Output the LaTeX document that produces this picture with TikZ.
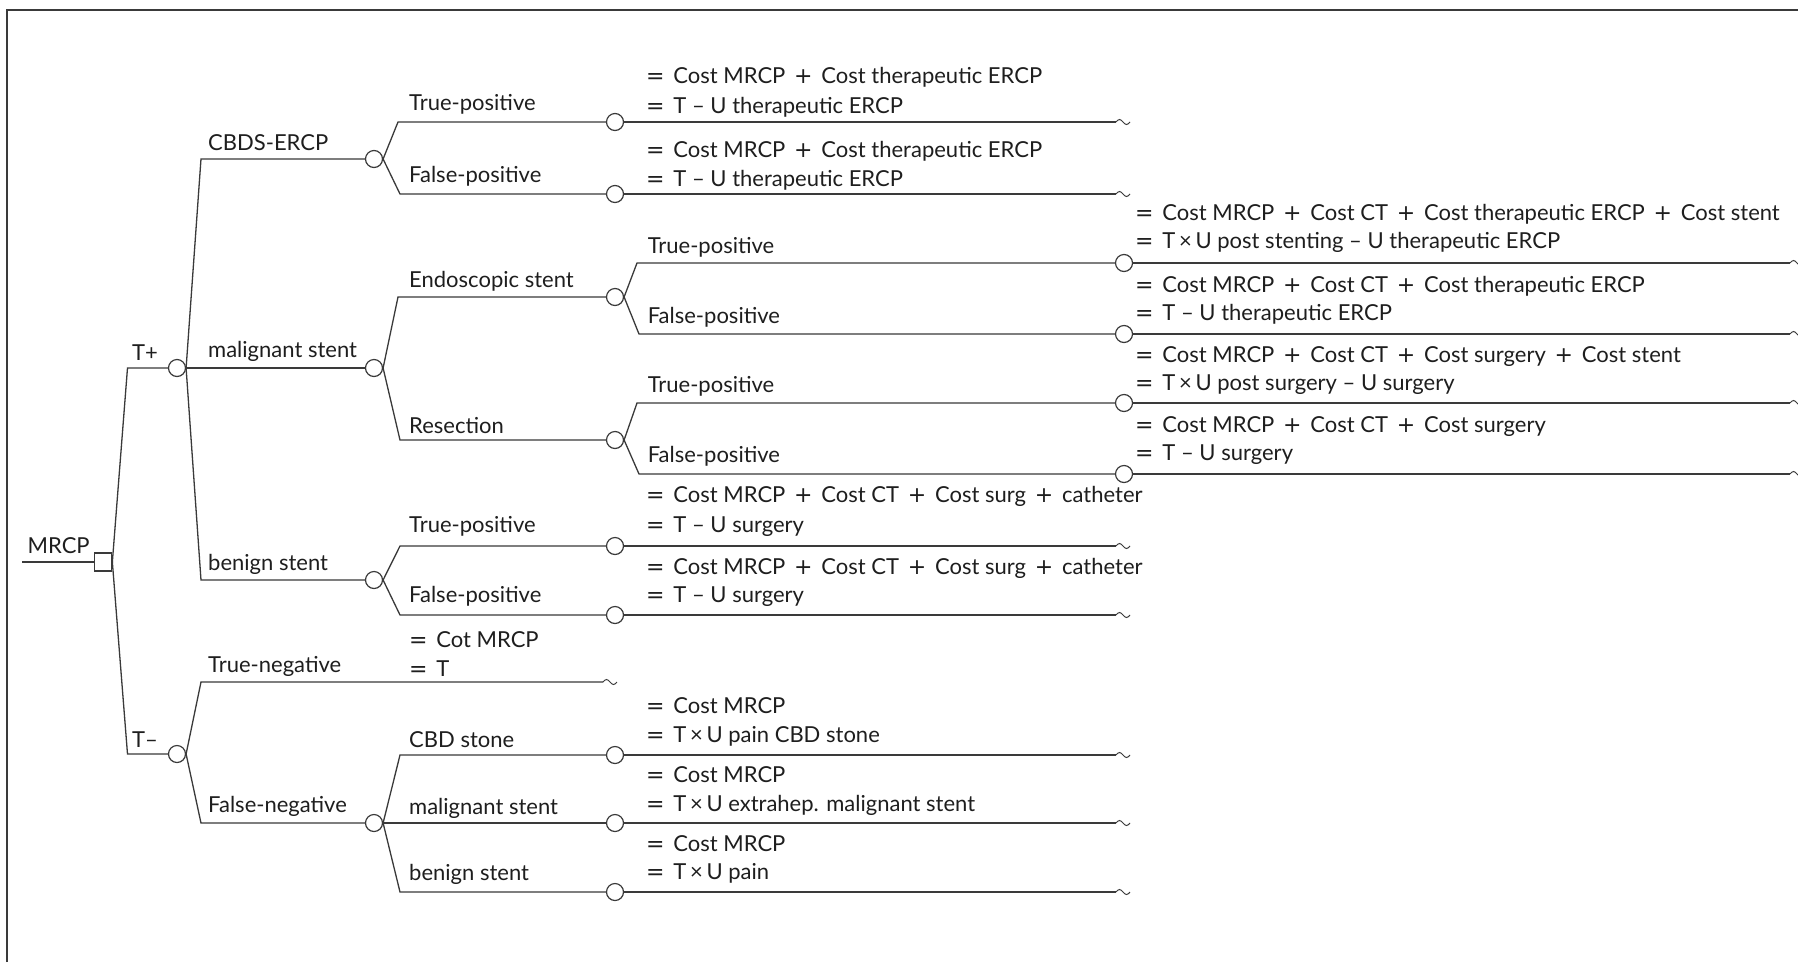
\documentclass[tikz,border=0pt]{standalone}
\usepackage{fontspec}
\setmainfont{Lato}
\newfontfamily\symf{DejaVu Sans}
\newcommand{\myeq}{{\symf =}\hspace{0.4em}}
\newcommand{\myplus}{\hspace{0.4em}{\symf +}\hspace{0.4em}}
\definecolor{lc}{HTML}{3A3A3A}
\definecolor{tc}{HTML}{1E1E1E}
\tikzset{
  br/.style={line width=1.3pt, draw=lc},
  framel/.style={line width=1.8pt, draw=lc},
  chance/.style={circle, draw=lc, line width=1.2pt, fill=white, minimum size=17pt, inner sep=0pt},
  dec/.style={rectangle, draw=lc, line width=1.2pt, fill=white, minimum width=17.5pt, minimum height=18pt, inner sep=0pt},
  lbl/.style={anchor=base west, inner sep=0pt, text=tc, font=\fontsize{22}{26}\selectfont},
  tld/.style={line width=1pt, draw=lc}
}
\newcommand{\tl}{sin ++(3.5,-2.5) cos ++(3.5,2.5) sin ++(3.5,2.5) cos ++(3.5,-2.5)}
\begin{document}
\begin{tikzpicture}[x=1pt,y=-1pt]
\useasboundingbox (0,0) rectangle (1798,962);
\fill[white] (0,0) rectangle (1798,962);
\draw[framel] (7,962) -- (7,10) -- (1798,10);

% coordinates
\coordinate (r0) at (22,562);
\coordinate (kP) at (127.5,368);
\coordinate (kN) at (127.5,754);
\coordinate (k1) at (201,159);
\coordinate (k3) at (201,580);
\coordinate (kTN) at (201,682);
\coordinate (k4) at (201,823);
\coordinate (k11) at (398,122);
\coordinate (k12) at (400,194);
\coordinate (k21) at (398,297);
\coordinate (k22) at (400,440);
\coordinate (k31) at (400,546);
\coordinate (k32) at (400,615);
\coordinate (k41) at (400,755);
\coordinate (k43) at (400,892);
\coordinate (k211) at (637,263);
\coordinate (k212) at (639,334);
\coordinate (k221) at (637,403);
\coordinate (k222) at (639,474);
\coordinate (eTN) at (603,682);
\coordinate (e11) at (1116,122);
\coordinate (e12) at (1116,194);
\coordinate (e31) at (1116,546);
\coordinate (e32) at (1116,615);
\coordinate (e41) at (1116,755);
\coordinate (e42) at (1116,823);
\coordinate (e43) at (1116,892);
\coordinate (e211) at (1790,263);
\coordinate (e212) at (1790,334);
\coordinate (e221) at (1790,403);
\coordinate (e222) at (1790,474);

% nodes
\node[dec] (d) at (103,562) {};
\node[chance] (cP) at (177,368) {};
\node[chance] (cN) at (177,754) {};
\node[chance] (c1) at (374,159) {};
\node[chance] (c2) at (374,368) {};
\node[chance] (c3) at (374,580) {};
\node[chance] (c4) at (374,823) {};
\node[chance] (c11) at (615,122) {};
\node[chance] (c12) at (615,194) {};
\node[chance] (c21) at (615,297) {};
\node[chance] (c22) at (615,440) {};
\node[chance] (c31) at (615,546) {};
\node[chance] (c32) at (615,615) {};
\node[chance] (c41) at (615,755) {};
\node[chance] (c42) at (615,823) {};
\node[chance] (c43) at (615,892) {};
\node[chance] (c211) at (1124,263) {};
\node[chance] (c212) at (1124,334) {};
\node[chance] (c221) at (1124,403) {};
\node[chance] (c222) at (1124,474) {};

% connectors
\draw[br] (r0) -- (d.west);
\draw[br] (d.east) -- (kP) -- (cP.west);
\draw[br] (d.east) -- (kN) -- (cN.west);
\draw[br] (cP.east) -- (k1) -- (c1.west);
\draw[br] (cP.east) -- (c2.west);
\draw[br] (cP.east) -- (k3) -- (c3.west);
\draw[br] (cN.east) -- (kTN) -- (eTN);
\draw[tld] (eTN) \tl;
\draw[br] (cN.east) -- (k4) -- (c4.west);
% level 2 fans
\draw[br] (c1.east) -- (k11) -- (c11.west); \draw[br] (c11.east) -- (e11); \draw[tld] (e11) \tl;
\draw[br] (c1.east) -- (k12) -- (c12.west); \draw[br] (c12.east) -- (e12); \draw[tld] (e12) \tl;
\draw[br] (c2.east) -- (k21) -- (c21.west);
\draw[br] (c2.east) -- (k22) -- (c22.west);
\draw[br] (c3.east) -- (k31) -- (c31.west); \draw[br] (c31.east) -- (e31); \draw[tld] (e31) \tl;
\draw[br] (c3.east) -- (k32) -- (c32.west); \draw[br] (c32.east) -- (e32); \draw[tld] (e32) \tl;
\draw[br] (c4.east) -- (k41) -- (c41.west); \draw[br] (c41.east) -- (e41); \draw[tld] (e41) \tl;
\draw[br] (c4.east) -- (c42.west); \draw[br] (c42.east) -- (e42); \draw[tld] (e42) \tl;
\draw[br] (c4.east) -- (k43) -- (c43.west); \draw[br] (c43.east) -- (e43); \draw[tld] (e43) \tl;
% level 3 fans
\draw[br] (c21.east) -- (k211) -- (c211.west); \draw[br] (c211.east) -- (e211); \draw[tld] (e211) \tl;
\draw[br] (c21.east) -- (k212) -- (c212.west); \draw[br] (c212.east) -- (e212); \draw[tld] (e212) \tl;
\draw[br] (c22.east) -- (k221) -- (c221.west); \draw[br] (c221.east) -- (e221); \draw[tld] (e221) \tl;
\draw[br] (c22.east) -- (k222) -- (c222.west); \draw[br] (c222.east) -- (e222); \draw[tld] (e222) \tl;

% labels
\node[lbl] (lMRCP) at (27.5,553) {MRCP};
\node[lbl] (lTp) at (132,360) {T+};
\node[lbl] (lTm) at (132,747) {T–};
\node[lbl] (lCBDS) at (208,150) {CBDS-ERCP};
\node[lbl] (lMal) at (208,357) {malignant stent};
\node[lbl] (lBen) at (208,570) {benign stent};
\node[lbl] (lTN) at (208,672) {True-negative};
\node[lbl] (lFN) at (208,812) {False-negative};
\node[lbl] (l11) at (409,110) {True-positive};
\node[lbl] (l12) at (409,182) {False-positive};
\node[lbl] (l21) at (409,287) {Endoscopic stent};
\node[lbl] (l22) at (409,433) {Resection};
\node[lbl] (l31) at (409,532) {True-positive};
\node[lbl] (l32) at (409,602) {False-positive};
\node[lbl] (l41) at (409,747) {CBD stone};
\node[lbl] (l42) at (409,814) {malignant stent};
\node[lbl] (l43) at (409,880) {benign stent};
\node[lbl] (oTNa) at (409,647) {\myeq Cot MRCP};
\node[lbl] (oTNb) at (409,676) {\myeq T};
\node[lbl] (l211) at (647.6,253) {True-positive};
\node[lbl] (l212) at (647.6,323) {False-positive};
\node[lbl] (l221) at (647.6,392) {True-positive};
\node[lbl] (l222) at (647.6,462) {False-positive};
% outcomes level 1
\node[lbl] (o11a) at (646,83) {\myeq Cost MRCP\myplus Cost therapeutic ERCP};
\node[lbl] (o11b) at (646,113) {\myeq T – U therapeutic ERCP};
\node[lbl] (o12a) at (646,157) {\myeq Cost MRCP\myplus Cost therapeutic ERCP};
\node[lbl] (o12b) at (646,186) {\myeq T – U therapeutic ERCP};
\node[lbl] (o31a) at (646,502) {\myeq Cost MRCP\myplus Cost CT\myplus Cost surg\myplus catheter};
\node[lbl] (o31b) at (646,532) {\myeq T – U surgery};
\node[lbl] (o32a) at (646,574) {\myeq Cost MRCP\myplus Cost CT\myplus Cost surg\myplus catheter};
\node[lbl] (o32b) at (646,602) {\myeq T – U surgery};
\node[lbl] (o41a) at (646,713) {\myeq Cost MRCP};
\node[lbl] (o41b) at (646,742) {\myeq T\,×\,U pain CBD stone};
\node[lbl] (o42a) at (646,782) {\myeq Cost MRCP};
\node[lbl] (o42b) at (646,811) {\myeq T\,×\,U extrahep. malignant stent};
\node[lbl] (o43a) at (646,851) {\myeq Cost MRCP};
\node[lbl] (o43b) at (646,879) {\myeq T\,×\,U pain};
% outcomes level 2
\node[lbl] (o211a) at (1135,220) {\myeq Cost MRCP\myplus Cost CT\myplus Cost therapeutic ERCP\myplus Cost stent};
\node[lbl] (o211b) at (1135,248) {\myeq T\,×\,U post stenting – U therapeutic ERCP};
\node[lbl] (o212a) at (1135,292) {\myeq Cost MRCP\myplus Cost CT\myplus Cost therapeutic ERCP};
\node[lbl] (o212b) at (1135,320) {\myeq T – U therapeutic ERCP};
\node[lbl] (o221a) at (1135,362) {\myeq Cost MRCP\myplus Cost CT\myplus Cost surgery\myplus Cost stent};
\node[lbl] (o221b) at (1135,390) {\myeq T\,×\,U post surgery – U surgery};
\node[lbl] (o222a) at (1135,432) {\myeq Cost MRCP\myplus Cost CT\myplus Cost surgery};
\node[lbl] (o222b) at (1135,460) {\myeq T – U surgery};
\end{tikzpicture}
\end{document}
